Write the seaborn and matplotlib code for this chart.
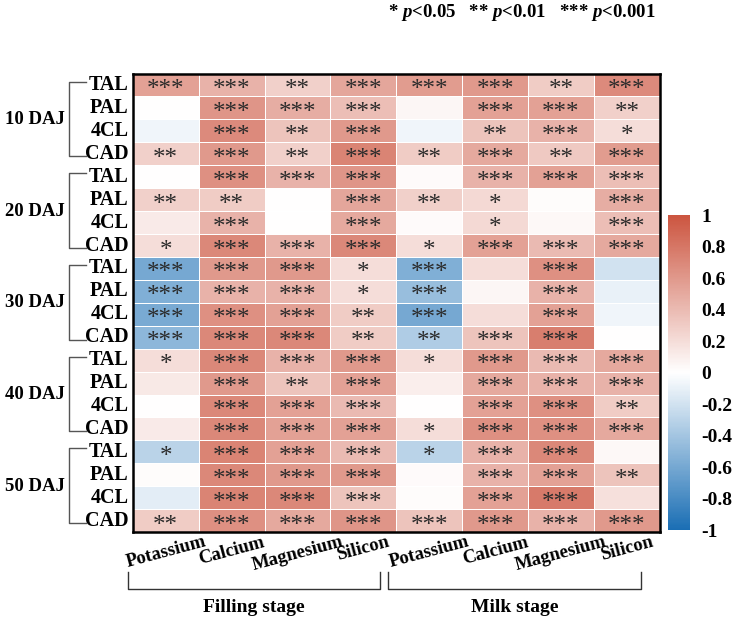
import numpy as np
import pandas as pd
import seaborn as sns
import matplotlib.pyplot as plt
from matplotlib.colors import LinearSegmentedColormap
from matplotlib.lines import Line2D

#%% data
days = ["10 DAJ", "20 DAJ", "30 DAJ", "40 DAJ", "50 DAJ"]
genes = ["TAL", "PAL", "4CL", "CAD"]
elements = ["Potassium", "Calcium", "Magnesium", "Silicon"]
stages = ["Filling stage", "Milk stage"]

# correlation coefficients, columns = filling K, Ca, Mg, Si | milk K, Ca, Mg, Si
r_10 = [
    [0.55, 0.45, 0.28, 0.52, 0.58, 0.60, 0.30, 0.68],
    [0.00, 0.62, 0.48, 0.38, 0.05, 0.55, 0.55, 0.28],
    [-0.07, 0.68, 0.35, 0.60, -0.07, 0.35, 0.45, 0.20],
    [0.28, 0.60, 0.28, 0.72, 0.30, 0.50, 0.32, 0.58],
]
r_20 = [
    [0.00, 0.65, 0.45, 0.62, 0.03, 0.45, 0.55, 0.38],
    [0.28, 0.30, 0.00, 0.52, 0.28, 0.22, 0.02, 0.48],
    [0.12, 0.45, 0.00, 0.50, 0.03, 0.22, 0.04, 0.38],
    [0.20, 0.70, 0.45, 0.70, 0.20, 0.55, 0.40, 0.50],
]
r_30 = [
    [-0.60, 0.60, 0.60, 0.20, -0.55, 0.20, 0.65, -0.20],
    [-0.55, 0.45, 0.45, 0.20, -0.45, 0.05, 0.45, -0.10],
    [-0.58, 0.65, 0.55, 0.30, -0.60, 0.20, 0.55, -0.07],
    [-0.50, 0.70, 0.70, 0.30, -0.35, 0.35, 0.75, 0.00],
]
r_40 = [
    [0.20, 0.70, 0.45, 0.60, 0.20, 0.60, 0.40, 0.50],
    [0.13, 0.60, 0.35, 0.55, 0.10, 0.50, 0.45, 0.45],
    [0.00, 0.70, 0.55, 0.40, 0.00, 0.55, 0.65, 0.30],
    [0.12, 0.70, 0.55, 0.55, 0.20, 0.65, 0.65, 0.50],
]
r_50 = [
    [-0.30, 0.72, 0.55, 0.40, -0.30, 0.45, 0.70, 0.04],
    [0.02, 0.70, 0.60, 0.60, 0.03, 0.45, 0.55, 0.35],
    [-0.12, 0.72, 0.70, 0.35, 0.02, 0.55, 0.78, 0.18],
    [0.30, 0.65, 0.50, 0.62, 0.35, 0.60, 0.45, 0.60],
]

# significance marks
s_10 = [
    ["***", "***", "**", "***", "***", "***", "**", "***"],
    ["", "***", "***", "***", "", "***", "***", "**"],
    ["", "***", "**", "***", "", "**", "***", "*"],
    ["**", "***", "**", "***", "**", "***", "**", "***"],
]
s_20 = [
    ["", "***", "***", "***", "", "***", "***", "***"],
    ["**", "**", "", "***", "**", "*", "", "***"],
    ["", "***", "", "***", "", "*", "", "***"],
    ["*", "***", "***", "***", "*", "***", "***", "***"],
]
s_30 = [
    ["***", "***", "***", "*", "***", "", "***", ""],
    ["***", "***", "***", "*", "***", "", "***", ""],
    ["***", "***", "***", "**", "***", "", "***", ""],
    ["***", "***", "***", "**", "**", "***", "***", ""],
]
s_40 = [
    ["*", "***", "***", "***", "*", "***", "***", "***"],
    ["", "***", "**", "***", "", "***", "***", "***"],
    ["", "***", "***", "***", "", "***", "***", "**"],
    ["", "***", "***", "***", "*", "***", "***", "***"],
]
s_50 = [
    ["*", "***", "***", "***", "*", "***", "***", ""],
    ["", "***", "***", "***", "", "***", "***", "**"],
    ["", "***", "***", "***", "", "***", "***", ""],
    ["**", "***", "***", "***", "***", "***", "***", "***"],
]

#%% build frames
row_labels = genes * len(days)
col_labels = [f"{e} ({s})" for s in stages for e in elements]
df = pd.DataFrame(np.vstack([r_10, r_20, r_30, r_40, r_50]), columns=col_labels)
stars = np.vstack([s_10, s_20, s_30, s_40, s_50])

cmap = LinearSegmentedColormap.from_list("bwr_soft", ["#1a6eb4", "#ffffff", "#cc5540"])
SERIF = "Liberation Serif"

#%% plot
fig = plt.figure(figsize=(7.38, 6.18), dpi=100)
ax = fig.add_axes([0.180, 0.139, 0.714, 0.742])
cax = fig.add_axes([0.905, 0.142, 0.030, 0.510])

sns.heatmap(
    df,
    ax=ax,
    cbar_ax=cax,
    cmap=cmap,
    vmin=-1,
    vmax=1,
    annot=stars,
    fmt="",
    annot_kws={"fontsize": 18, "color": "#2b2b2b", "family": SERIF},
    linewidths=0.7,
    linecolor="white",
    xticklabels=elements * 2,
    yticklabels=row_labels,
)

# asterisks sit high in the font, nudge them to the cell centre
for t in ax.texts:
    x, y = t.get_position()
    t.set_position((x, y + 0.22))

for spine in ax.spines.values():
    spine.set_visible(True)
    spine.set_linewidth(1.8)
    spine.set_color("black")

ax.tick_params(axis="both", length=0)
ax.tick_params(axis="y", pad=3)
ax.set_yticklabels(row_labels, rotation=0, fontsize=14.5, fontweight="bold", family=SERIF)
ax.set_xticklabels(
    elements * 2, rotation=15, ha="center", fontsize=13.5, fontweight="bold", family=SERIF
)
ax.tick_params(axis="x", pad=1)

## colorbar
cb = ax.collections[0].colorbar
ticks = np.round(np.linspace(-1, 1, 11), 1)
cb.set_ticks(ticks)
cb.set_ticklabels([f"{v:g}" if v != 0 else "0" for v in ticks])
cb.outline.set_visible(False)
cax.tick_params(length=0, pad=8)
for lab in cax.get_yticklabels():
    lab.set_fontsize(14)
    lab.set_fontweight("bold")
    lab.set_family(SERIF)

## left brackets for sampling days
ytr = ax.get_yaxis_transform()
for g, day in enumerate(days):
    top = 4 * g + 0.35
    bot = 4 * g + 3.6
    ax.add_line(Line2D([-0.088, -0.121, -0.121, -0.088], [top, top, bot, bot],
                       transform=ytr, color="#555555", lw=1, clip_on=False))
    ax.text(-0.243, 4 * g + 2, day, transform=ytr, ha="left", va="center",
            fontsize=13.5, fontweight="bold", family=SERIF)

## bottom brackets for stages
xtr = ax.get_xaxis_transform()
for k, stage in enumerate(stages):
    x0 = 4 * k - 0.08 if k == 0 else 4 * k - 0.12
    x1 = 4 * k + 3.75 if k == 0 else 4 * k + 3.72
    ax.add_line(Line2D([x0, x0, x1, x1], [-0.088, -0.125, -0.125, -0.088],
                       transform=xtr, color="#333333", lw=1, clip_on=False))
    ax.text((x0 + x1) / 2, -0.165, stage, transform=xtr, ha="center", va="center",
            fontsize=14, fontweight="bold", family=SERIF)

## significance legend
plt.rcParams["mathtext.fontset"] = "custom"
plt.rcParams["mathtext.it"] = "Liberation Serif:italic:bold"
plt.rcParams["mathtext.rm"] = "Liberation Serif:bold"
fig.text(0.888, 0.997, r"* $p$<0.05   ** $p$<0.01   *** $p$<0.001", ha="right", va="top",
         fontsize=13.5, fontweight="bold", family=SERIF)

fig.savefig("out.png", dpi=100)
